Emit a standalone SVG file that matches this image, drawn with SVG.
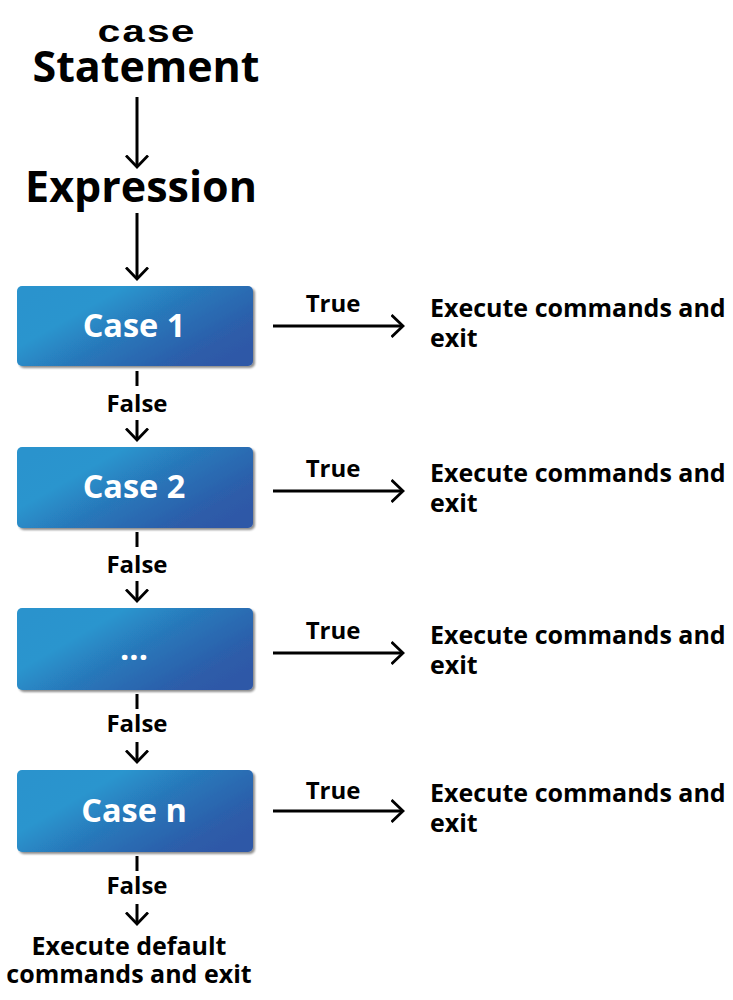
<svg xmlns="http://www.w3.org/2000/svg" width="733" height="1000" viewBox="0 0 733 1000">
<defs>
<linearGradient id="bg" x1="0" y1="0.2" x2="1" y2="0.8">
<stop offset="0" stop-color="#2a93cd"/>
<stop offset="0.25" stop-color="#2a95ce"/>
<stop offset="0.5" stop-color="#2878ba"/>
<stop offset="0.85" stop-color="#2d5ca9"/>
<stop offset="1" stop-color="#2e58a7"/>
</linearGradient>
<filter id="sh" x="-5%" y="-5%" width="115%" height="125%">
<feGaussianBlur in="SourceAlpha" stdDeviation="1.2"/>
<feOffset dx="2" dy="2" result="b"/>
<feComponentTransfer><feFuncA type="linear" slope="0.45"/></feComponentTransfer>
<feMerge><feMergeNode/><feMergeNode in="SourceGraphic"/></feMerge>
</filter>
<marker id="ah" viewBox="0 0 14 24" refX="12.5" refY="12" markerWidth="14" markerHeight="24" markerUnits="userSpaceOnUse" orient="auto">
<path d="M1,1 L12.5,12 L1,23" fill="none" stroke="#000" stroke-width="2.8"/>
</marker>
</defs>
<style>
text{font-family:"Open Sans","Noto Sans","Liberation Sans",sans-serif;font-weight:700;fill:#000}
.t{font-size:43px;text-anchor:middle}
.bx{fill:url(#bg);filter:url(#sh)}
.bt{fill:#fff;font-size:32.5px;text-anchor:middle}
.lb{font-size:24px;text-anchor:middle}
.r{font-size:25px}
.c line{stroke:#000;stroke-width:3;fill:none}
.c .a{marker-end:url(#ah)}
</style>
<g id="title">
<text x="146" y="42" text-anchor="middle" textLength="98" lengthAdjust="spacingAndGlyphs" style="font-family:'Liberation Mono','DejaVu Sans Mono',monospace;font-size:32px;font-weight:700">case</text>
<text class="t" x="146" y="82">Statement</text>
</g>
<g id="expression">
<text class="t" x="141" y="202">Expression</text>
</g>
<g id="case1">
<rect class="bx" x="17" y="286" width="236" height="80" rx="5"/>
<text class="bt" x="134" y="337">Case 1</text>
</g>
<g id="case2">
<rect class="bx" x="17" y="447" width="236" height="81" rx="5"/>
<text class="bt" x="134" y="498">Case 2</text>
</g>
<g id="case3">
<rect class="bx" x="17" y="608" width="236" height="82" rx="5"/>
<text class="bt" x="134" y="660">...</text>
</g>
<g id="casen">
<rect class="bx" x="17" y="770" width="236" height="82" rx="5"/>
<text class="bt" x="134" y="822">Case n</text>
</g>
<g id="exec1"><text class="r" x="430" y="317">Execute commands and</text><text class="r" x="430" y="347">exit</text></g>
<g id="exec2"><text class="r" x="430" y="482">Execute commands and</text><text class="r" x="430" y="512">exit</text></g>
<g id="exec3"><text class="r" x="430" y="644">Execute commands and</text><text class="r" x="430" y="674">exit</text></g>
<g id="exec4"><text class="r" x="430" y="802">Execute commands and</text><text class="r" x="430" y="832">exit</text></g>
<g id="default">
<text class="r" x="129" y="955" text-anchor="middle">Execute default</text>
<text class="r" x="129" y="983" text-anchor="middle">commands and exit</text>
</g>
<g id="connectors" class="c">
<line class="a" x1="137" y1="97" x2="137" y2="167"/>
<line class="a" x1="137" y1="213" x2="137" y2="279"/>
<line x1="137" y1="371" x2="137" y2="386"/>
<line class="a" x1="137" y1="420" x2="137" y2="440"/>
<line x1="137" y1="532" x2="137" y2="547"/>
<line class="a" x1="137" y1="581" x2="137" y2="601"/>
<line x1="137" y1="694" x2="137" y2="709"/>
<line class="a" x1="137" y1="742" x2="137" y2="762"/>
<line x1="137" y1="856" x2="137" y2="871"/>
<line class="a" x1="137" y1="904" x2="137" y2="924"/>
<line class="a" x1="273" y1="326" x2="403" y2="326"/>
<line class="a" x1="273" y1="491" x2="403" y2="491"/>
<line class="a" x1="273" y1="653" x2="403" y2="653"/>
<line class="a" x1="273" y1="811" x2="403" y2="811"/>
<text class="lb" x="333" y="312">True</text>
<text class="lb" x="333" y="477">True</text>
<text class="lb" x="333" y="639">True</text>
<text class="lb" x="333" y="799">True</text>
<text class="lb" x="137" y="412">False</text>
<text class="lb" x="137" y="573">False</text>
<text class="lb" x="137" y="732">False</text>
<text class="lb" x="137" y="894">False</text>
</g>
</svg>
